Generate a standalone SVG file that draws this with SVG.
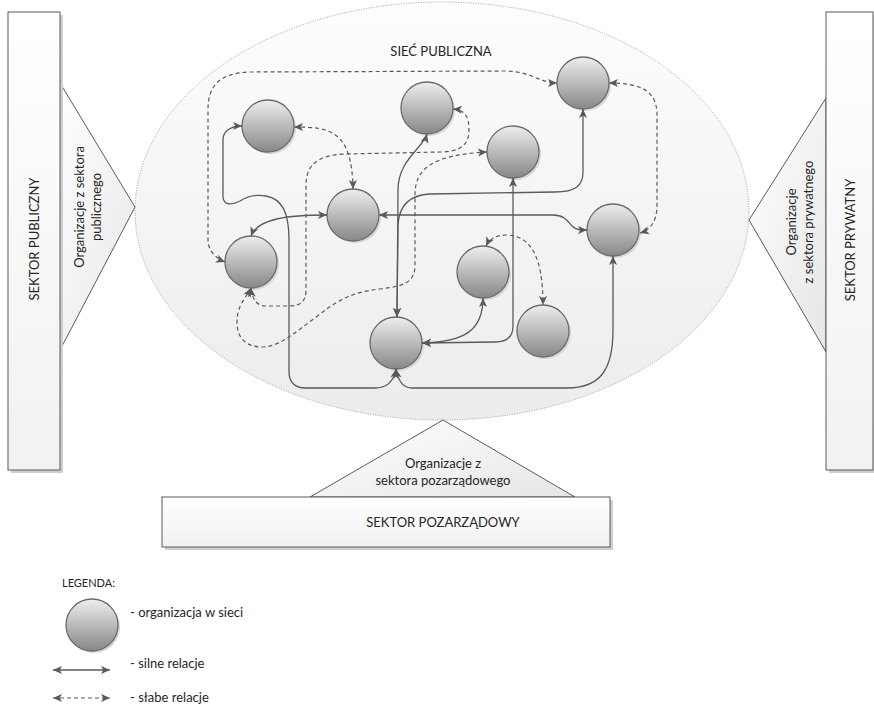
<svg xmlns="http://www.w3.org/2000/svg" width="874" height="709" viewBox="0 0 874 709">
<defs>
<style>
text{font-family:Lato,"Open Sans","Liberation Sans",sans-serif;fill:#262626;font-size:13px}
.mid{text-anchor:middle}
.panel{fill:url(#gPanel);stroke:#5a5a5a;stroke-width:1}
.shadow{fill:#cfcfcf}
.tri{fill:url(#gTri);stroke:#5a5a5a;stroke-width:1}
.node{fill:url(#gNode);stroke:#6a6a6a;stroke-width:1.3}
.nshadow{fill:#d6d6d6}
.s{fill:none;stroke:#5a5a5a;stroke-width:1.3;marker-start:url(#ah);marker-end:url(#ah)}
.d{fill:none;stroke:#5a5a5a;stroke-width:1.2;stroke-dasharray:4 3;marker-start:url(#ah);marker-end:url(#ah)}
</style>
<linearGradient id="gNode" x1="0" y1="0" x2="0" y2="1">
<stop offset="0" stop-color="#eeeeee"/>
<stop offset="1" stop-color="#878787"/>
</linearGradient>
<linearGradient id="gEll" x1="0" y1="0" x2="0" y2="1">
<stop offset="0" stop-color="#fdfdfd"/>
<stop offset="1" stop-color="#ececec"/>
</linearGradient>
<linearGradient id="gPanel" x1="0" y1="0" x2="0" y2="1">
<stop offset="0" stop-color="#ffffff"/>
<stop offset="1" stop-color="#f1f1f1"/>
</linearGradient>
<linearGradient id="gTri" x1="0" y1="0" x2="1" y2="1">
<stop offset="0" stop-color="#ffffff"/>
<stop offset="1" stop-color="#e6e6e6"/>
</linearGradient>
<marker id="ah" viewBox="0 0 10 10" refX="10" refY="5" markerWidth="10" markerHeight="9" markerUnits="userSpaceOnUse" orient="auto-start-reverse">
<path d="M0,0.5 L10,5 L0,9.5 L2.5,5 z" fill="#595959"/>
</marker>
</defs>

<g id="network">
<ellipse cx="442" cy="211" rx="307" ry="209" fill="url(#gEll)" stroke="#9a9a9a" stroke-width="1" stroke-dasharray="1 1.5"/>
<text class="mid" x="441" y="56">SIEĆ PUBLICZNA</text>
</g>

<g id="sektor-publiczny">
<polygon class="tri" points="60,83 135,207 60,350"/>
<text class="mid" transform="translate(84,207) rotate(-90)">Organizacje z sektora</text>
<text class="mid" transform="translate(101,207) rotate(-90)">publicznego</text>
<rect class="shadow" x="11" y="15" width="52" height="458"/>
<rect class="panel" x="8" y="12" width="52" height="458"/>
<text class="mid" transform="translate(39,239) rotate(-90)">SEKTOR PUBLICZNY</text>
</g>

<g id="sektor-prywatny">
<polygon class="tri" points="826,98 749,220 826,352"/>
<text class="mid" transform="translate(796,222) rotate(-90)">Organizacje</text>
<text class="mid" transform="translate(813,222) rotate(-90)">z sektora prywatnego</text>
<rect class="shadow" x="829" y="15" width="45" height="458"/>
<rect class="panel" x="826" y="12" width="47" height="458"/>
<text class="mid" transform="translate(855,240) rotate(-90)">SEKTOR PRYWATNY</text>
</g>

<g id="sektor-pozarzadowy">
<polygon class="tri" points="310,497 443,420 575,497"/>
<text class="mid" x="443" y="468">Organizacje z</text>
<text class="mid" x="443" y="485">sektora pozarządowego</text>
<rect class="shadow" x="165" y="500" width="448" height="50"/>
<rect class="panel" x="162" y="497" width="448" height="50"/>
<text class="mid" x="443" y="527">SEKTOR POZARZĄDOWY</text>
</g>

<g id="nodes">
<g id="node-a"><circle class="nshadow" cx="270" cy="128" r="26"/><circle class="node" cx="268" cy="126" r="26"/></g>
<g id="node-b"><circle class="nshadow" cx="355" cy="217" r="26"/><circle class="node" cx="353" cy="215" r="26"/></g>
<g id="node-c"><circle class="nshadow" cx="429" cy="110" r="26"/><circle class="node" cx="427" cy="108" r="26"/></g>
<g id="node-d"><circle class="nshadow" cx="585" cy="85" r="26"/><circle class="node" cx="583" cy="83" r="26"/></g>
<g id="node-e"><circle class="nshadow" cx="615" cy="232" r="26"/><circle class="node" cx="613" cy="230" r="26"/></g>
<g id="node-f"><circle class="nshadow" cx="515" cy="154" r="26"/><circle class="node" cx="513" cy="152" r="26"/></g>
<g id="node-g"><circle class="nshadow" cx="485" cy="274" r="26"/><circle class="node" cx="483" cy="272" r="26"/></g>
<g id="node-h"><circle class="nshadow" cx="545" cy="333" r="26"/><circle class="node" cx="543" cy="331" r="26"/></g>
<g id="node-i"><circle class="nshadow" cx="398" cy="345" r="26"/><circle class="node" cx="396" cy="343" r="26"/></g>
<g id="node-j"><circle class="nshadow" cx="253" cy="264" r="26"/><circle class="node" cx="251" cy="262" r="26"/></g>
</g>

<g id="connectors">
<path class="s" d="M242,126 C232,126 223,130 223,140 L223,196 C223,206 232,205 240,201 C248,196 256,194 266,196 C282,199 289,212 289,240 L289,372 C289,382 295,388 305,388 L375,388 C388,388 394,380 396,369"/>
<path class="s" d="M613,256 L613,330 C613,370 600,388 567,388 L412,388 C402,388 398,380 396,369"/>
<path class="s" d="M379,215 L553,215 C565,215 568,222 572,226 C576,230 580,230 587,230"/>
<path class="s" d="M327,215 C290,215 258,218 251,236"/>
<path class="s" d="M513,178 L513,326 C513,338 506,342 495,342 L422,343"/>
<path class="s" d="M483,298 C483,330 465,342 422,343"/>
<path class="s" d="M427,134 C423,148 398,160 398,190 L397,317"/>
<path class="s" d="M583,109 L583,172 C583,186 575,192 555,192 L430,194 C410,195 399,205 398,225 L397,317"/>
<path class="d" d="M225,262 C215,258 208,250 208,240 L208,110 C208,85 220,73 250,72 L505,71 C530,71 540,83 557,83"/>
<path class="d" d="M294,127 C330,127 352,130 353,189"/>
<path class="d" d="M453,109 C466,110 469,118 469,130 C469,145 460,152 440,152 L345,154 C318,155 306,165 306,185 L306,290 C306,302 300,306 288,306 L265,306 C258,306 252,300 251,288"/>
<path class="d" d="M251,288 C246,298 237,305 237,322 C237,340 248,347 262,347 C280,347 295,332 315,318 C335,302 350,292 380,289 C405,286 415,282 415,265 L415,195 C415,170 430,155 487,152"/>
<path class="d" d="M609,83 C640,83 657,90 657,115 L657,205 C657,222 650,230 640,233"/>
<path class="d" d="M486,246 C490,238 497,235 507,235 C530,236 543,255 543,305"/>
</g>

<g id="legend">
<text x="62" y="587" style="font-size:11px">LEGENDA:</text>
<g id="legend-node"><circle class="nshadow" cx="94" cy="627" r="26"/><circle class="node" cx="92" cy="625" r="26"/></g>
<text x="130" y="617">- organizacja w sieci</text>
<path class="s" d="M53,670 L110,670"/>
<text x="130" y="668">- silne relacje</text>
<path class="d" d="M53,698 L110,698"/>
<text x="130" y="702">- słabe relacje</text>
</g>
</svg>
